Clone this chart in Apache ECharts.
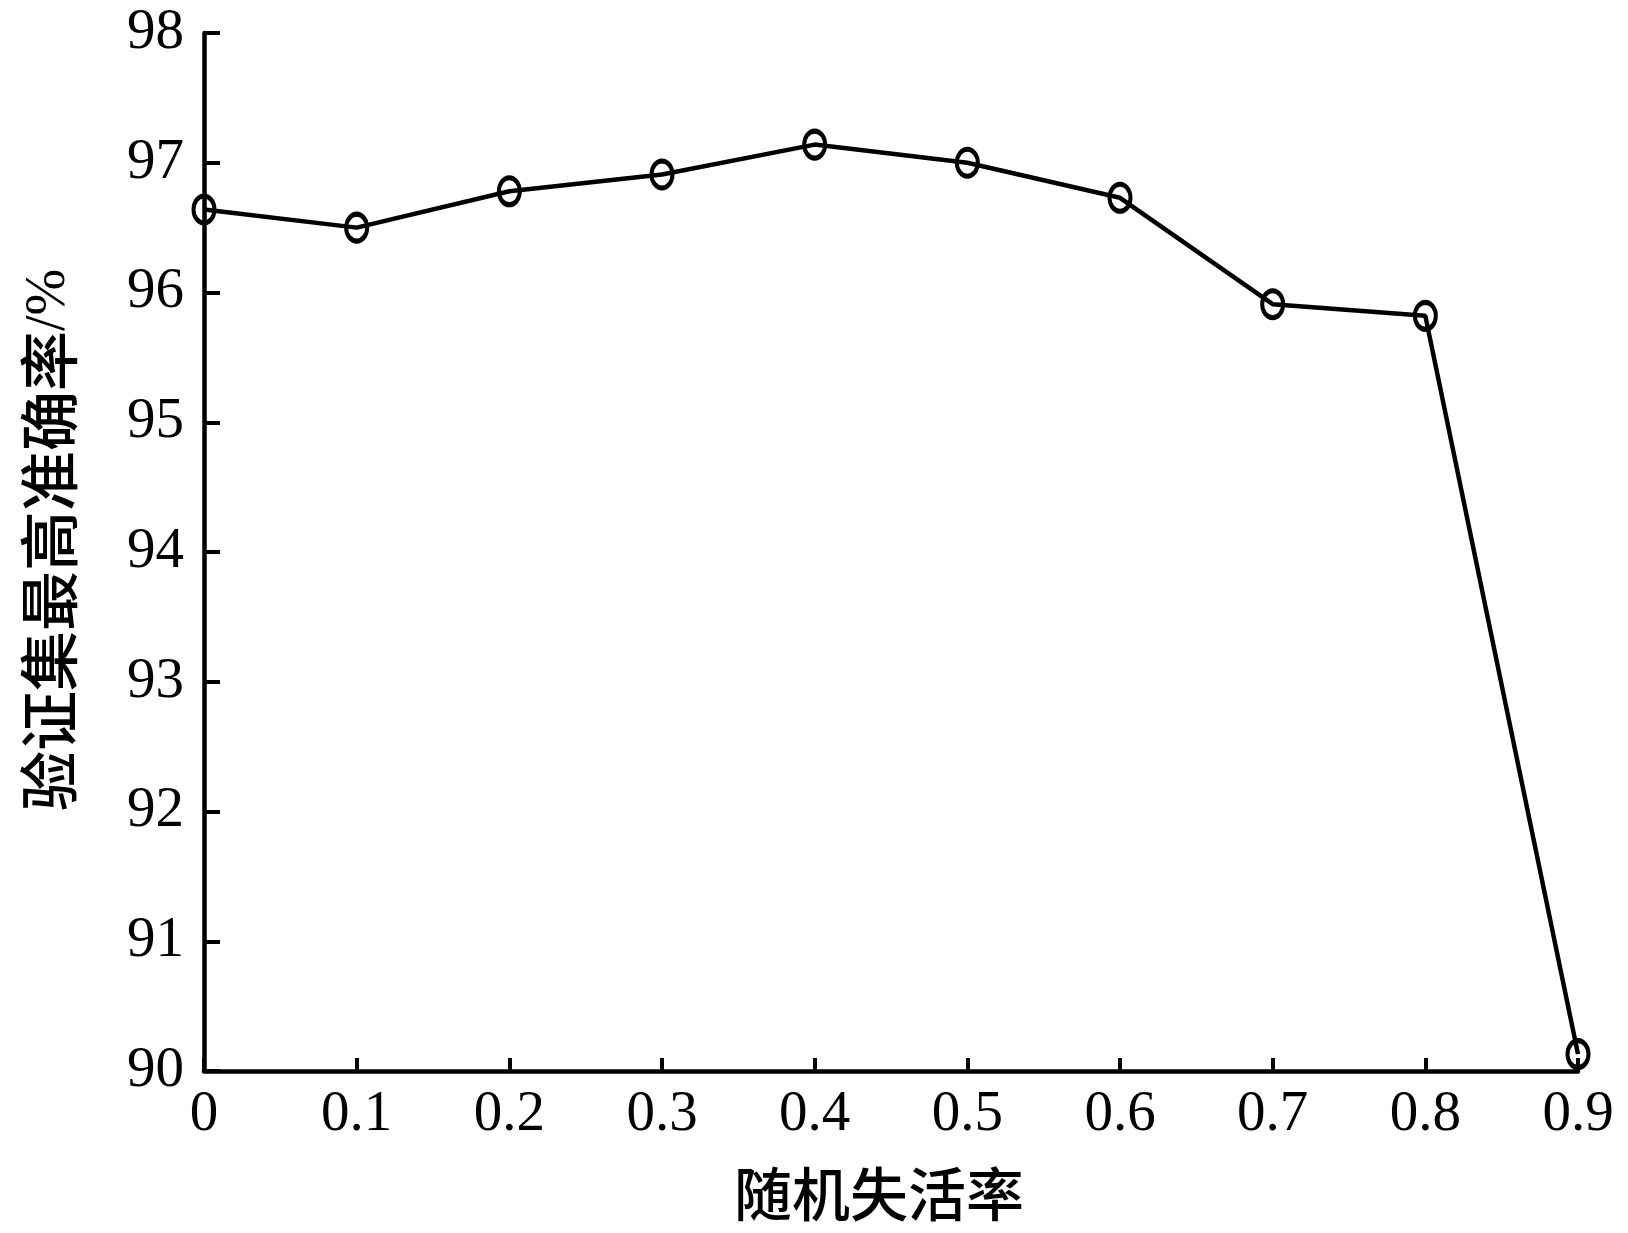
<!DOCTYPE html>
<html>
<head>
<meta charset="utf-8">
<script src="https://cdn.jsdelivr.net/npm/echarts@6/dist/echarts.min.js"></script>
<style>
html,body{margin:0;padding:0;background:#fff;}
#c{width:1628px;height:1233px;}
</style>
</head>
<body>
<div id="c"></div>
<script>
const categories = ['0','0.1','0.2','0.3','0.4','0.5','0.6','0.7','0.8','0.9'];
const accuracy = [96.64, 96.50, 96.78, 96.91, 97.14, 97.00, 96.73, 95.91, 95.82, 90.13];
const yTicks = [90, 91, 92, 93, 94, 95, 96, 97, 98];
const xTitle = '随机失活率';
const yTitle = '验证集最高准确率';
const yUnit = '/%';

const serif = '"Liberation Serif", "Times New Roman", serif';
const cjk = '"Noto Sans CJK SC", sans-serif';

const chart = echarts.init(document.getElementById('c'), null, {renderer: 'canvas'});
chart.setOption({
  animation: false,
  backgroundColor: '#fff',
  grid: {left: 204, right: 50, top: 33, bottom: 162, containLabel: false},
  xAxis: {
    type: 'category',
    data: categories,
    boundaryGap: false,
    axisLine: {show: true, lineStyle: {color: '#000', width: 4.5}},
    axisTick: {show: true, inside: true, length: 13, alignWithLabel: true, lineStyle: {color: '#000', width: 4}},
    axisLabel: {color: '#000', fontFamily: serif, fontSize: 57, margin: 16},
    splitLine: {show: false}
  },
  yAxis: {
    type: 'value',
    min: yTicks[0],
    max: yTicks[yTicks.length - 1],
    interval: 1,
    axisLine: {show: true, lineStyle: {color: '#000', width: 4.5}},
    axisTick: {show: true, inside: true, length: 16, lineStyle: {color: '#000', width: 4}},
    axisLabel: {color: '#000', fontFamily: serif, fontSize: 57, margin: 20},
    splitLine: {show: false}
  },
  graphic: [
    {
      type: 'text',
      x: 879, y: 1194,
      style: {text: xTitle, font: '500 58px ' + cjk, fill: '#000', align: 'center', verticalAlign: 'middle'}
    },
    {
      type: 'text',
      x: 49, y: 540,
      rotation: Math.PI / 2,
      style: {
        text: '{a|' + yTitle + '}{b|' + yUnit + '}',
        fill: '#000', align: 'center', verticalAlign: 'middle',
        rich: {
          a: {fontFamily: cjk, fontSize: 60, fontWeight: 500, fill: '#000'},
          b: {fontFamily: serif, fontSize: 56, fill: '#000'}
        }
      }
    }
  ],
  series: [{
    type: 'line',
    data: accuracy,
    clip: false,
    symbol: 'circle',
    symbolSize: [21, 27],
    lineStyle: {color: '#000', width: 4.5},
    itemStyle: {color: 'rgba(0,0,0,0)', borderColor: '#000', borderWidth: 4.5},
    z: 5
  }]
});
</script>
</body>
</html>
